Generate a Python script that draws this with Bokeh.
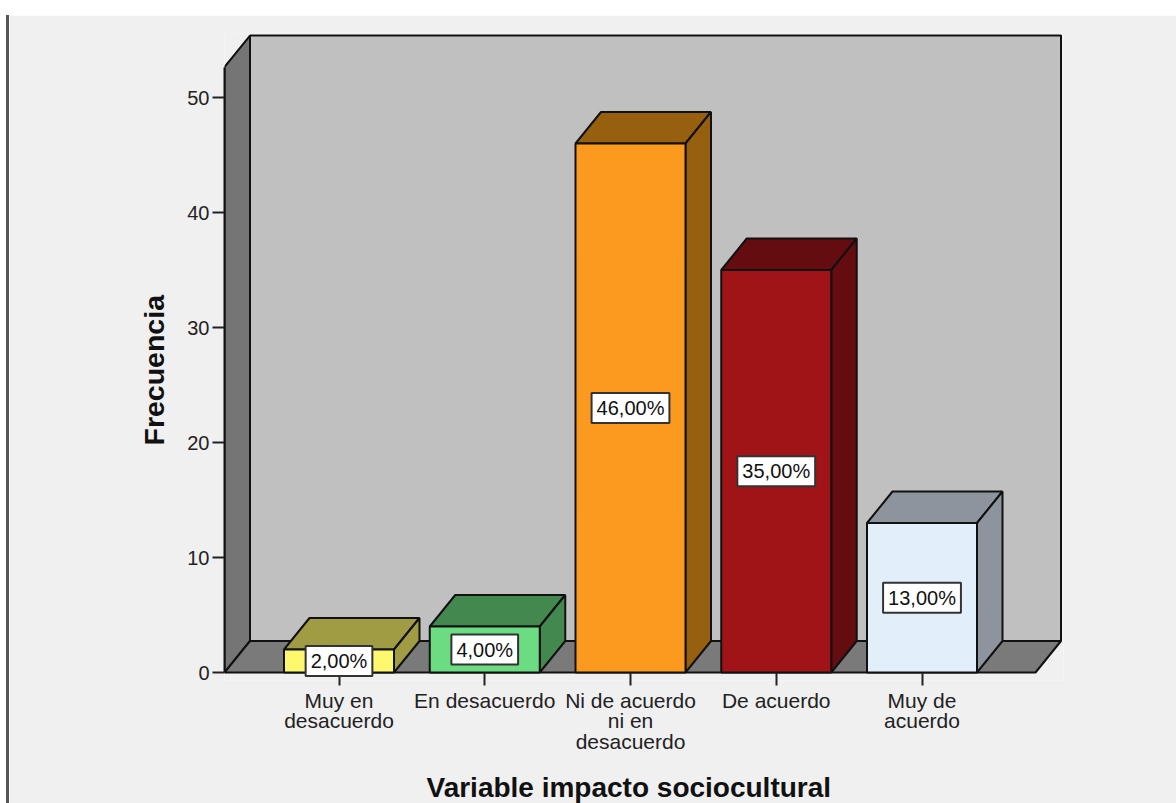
from bokeh.embed import file_html
from bokeh.models import AllLabels, FixedTicker, Label, Range1d, Title
from bokeh.plotting import figure
from bokeh.resources import INLINE

categories = ["Muy en\ndesacuerdo", "En desacuerdo", "Ni de acuerdo\nni en\ndesacuerdo", "De acuerdo", "Muy de\nacuerdo"]
frequencies = [2, 4, 46, 35, 13]
percent_labels = ["2,00%", "4,00%", "46,00%", "35,00%", "13,00%"]
y_ticks = [0, 10, 20, 30, 40, 50]
front_colors = ["#fdf86d", "#6bdc82", "#fb9a1f", "#a01418", "#e3eefb"]
shade_colors = ["#a09c44", "#43884f", "#97600f", "#640c0f", "#8d949d"]

FONT = "Liberation Sans"
EDGE = "#111111"
W, H = 1176, 803
# The figure sits inside a white window margin with a dark rule on its left
OFF_L, RULE, OFF_T = 9, 3, 15
# The plot area runs a little below the zero line so the lowest value label fits
FRAME_L, FRAME_R, FRAME_T, FRAME_B, ZERO_PX = 224, 1063, 33, 680, 672

# Pixel scale of the axes
PX_X = 145.75
PX_Y = 11.5
X1_PX = 338.5

x0 = 1 - (X1_PX - FRAME_L) / PX_X
x1 = 1 + (FRAME_R - X1_PX) / PX_X
y0 = (ZERO_PX - FRAME_B) / PX_Y
y1 = (ZERO_PX - FRAME_T) / PX_Y

# Oblique offset of the 3D box, and the box and bar extents, in data units
DX = 25.5 / PX_X
DY = 31.5 / PX_Y
HALF = 55 / PX_X
BOX_TOP = 52.65
BOX_RIGHT = 1 + (1035 - X1_PX) / PX_X

p = figure(
    width=W - OFF_L, height=H - OFF_T, output_backend="svg", toolbar_location=None,
    x_range=Range1d(x0, x1), y_range=Range1d(y0, y1),
    min_border_left=FRAME_L - OFF_L, min_border_right=W - FRAME_R,
    min_border_top=FRAME_T - OFF_T, min_border_bottom=H - FRAME_B,
)
p.styles = {"margin-left": f"{OFF_L}px", "margin-top": f"{OFF_T}px",
            "box-shadow": f"-{RULE}px 0 0 #555555"}
p.border_fill_color = "#f0f0f0"
p.background_fill_color = "#f0f0f0"
p.outline_line_color = None
p.grid.visible = False

# Back wall, side wall, floor
p.patch([x0 + DX, BOX_RIGHT + DX, BOX_RIGHT + DX, x0 + DX], [DY, DY, BOX_TOP + DY, BOX_TOP + DY],
        fill_color="#c0c0c0", line_color=EDGE, line_width=2)
p.patch([x0, x0 + DX, x0 + DX, x0], [0, DY, BOX_TOP + DY, BOX_TOP],
        fill_color="#757575", line_color=EDGE, line_width=2)
p.patch([x0, x0 + DX, BOX_RIGHT + DX, BOX_RIGHT], [0, DY, DY, 0],
        fill_color="#7a7a7a", line_color=EDGE, line_width=2)

# Bars: top and side faces, then the front face
for i, v in enumerate(frequencies):
    c = i + 1
    l, r = c - HALF, c + HALF
    p.patch([l, l + DX, r + DX, r], [v, v + DY, v + DY, v],
            fill_color=shade_colors[i], line_color=EDGE, line_width=2)
    p.patch([r, r + DX, r + DX, r], [0, DY, v + DY, v],
            fill_color=shade_colors[i], line_color=EDGE, line_width=2)
    p.quad(left=l, right=r, bottom=0, top=v,
           fill_color=front_colors[i], line_color=EDGE, line_width=2)

# Axes: the horizontal rule is the floor's front edge, so the ticks start inside the plot area
xa = p.xaxis[0]
xa.ticker = FixedTicker(ticks=list(range(1, len(categories) + 1)))
xa.major_label_overrides = {i + 1: c for i, c in enumerate(categories)}
xa.major_label_policy = AllLabels()
xa.axis_line_color = None
xa.major_tick_line_color = "#222222"
xa.major_tick_line_width = 2
xa.major_tick_in = FRAME_B - ZERO_PX
xa.major_tick_out = 13 - (FRAME_B - ZERO_PX)
xa.minor_tick_line_color = None
xa.major_label_standoff = 3
xa.major_label_text_font = FONT
xa.major_label_text_font_size = "21px"
xa.major_label_text_color = "#222222"
xa.major_label_text_line_height = 0.9

ya = p.yaxis[0]
ya.ticker = FixedTicker(ticks=y_ticks)
ya.bounds = (0, BOX_TOP)
ya.axis_line_color = EDGE
ya.axis_line_width = 2
ya.major_tick_line_color = "#222222"
ya.major_tick_line_width = 2
ya.major_tick_out = 12
ya.major_tick_in = 0
ya.minor_tick_line_color = None
ya.major_label_standoff = 3
ya.major_label_text_font = FONT
ya.major_label_text_font_size = "20px"
ya.major_label_text_color = "#222222"

# A blank strip holds the horizontal title clear of the category labels
p.add_layout(Title(text=" ", standoff=10, text_font=FONT, text_font_size="1px"), "below")

# Axis titles, placed along the box rather than centred on the plot area
p.add_layout(Title(text="Variable impacto sociocultural", align="left", offset=202, standoff=2,
                   vertical_align="bottom", text_line_height=1.0,
                   text_font=FONT, text_font_style="bold", text_font_size="28px", text_color="#111111"),
             "below")
p.add_layout(Title(text="Frecuencia", align="left", offset=235, standoff=30,
                   text_font=FONT, text_font_style="bold", text_font_size="28.5px", text_color="#111111"),
             "left")

# Value labels centred on each bar's height
for i, v in enumerate(frequencies):
    p.add_layout(Label(
        x=i + 1, y=v / 2, text=percent_labels[i], text_align="center", text_baseline="middle",
        text_font=FONT, text_font_size="20px", text_color="#111111",
        background_fill_color="white", border_line_color="#333333", border_line_width=2,
        padding=(5, 4),
    ))

open("out.html", "w").write(file_html(p, INLINE))
